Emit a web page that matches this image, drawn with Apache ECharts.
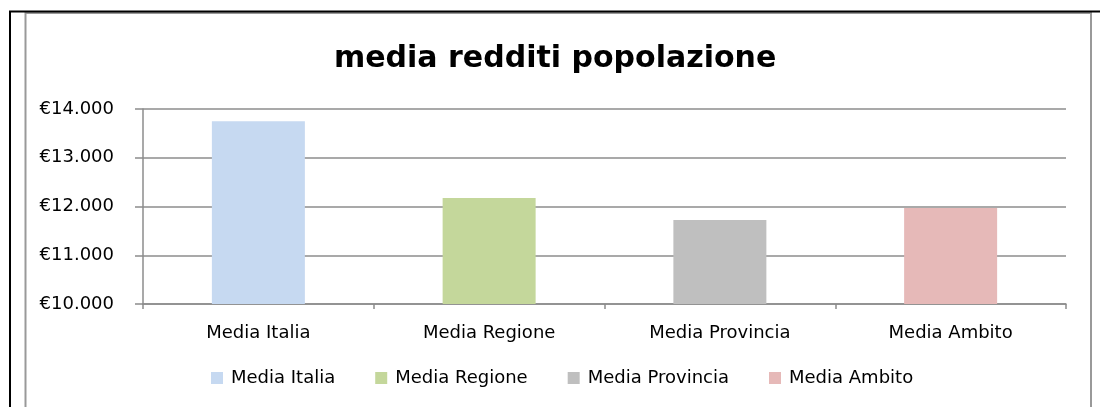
<!DOCTYPE html>
<html>
<head>
<meta charset="utf-8">
<script src="https://cdn.jsdelivr.net/npm/echarts@6/dist/echarts.min.js"></script>
<style>
html,body{margin:0;padding:0;background:#fff;}
#c{width:1100px;height:407px;}
</style>
</head>
<body>
<div id="c"></div>
<script>
const titleText = 'media redditi popolazione';
const categories = ['Media Italia', 'Media Regione', 'Media Provincia', 'Media Ambito'];
const values = [13750, 12175, 11725, 11970];
const colors = ['#c6d9f1', '#c4d79b', '#bfbfbf', '#e6b9b8'];
const yTicks = { min: 10000, max: 14000, interval: 1000 };

const FONT = '"DejaVu Sans", sans-serif';
const chart = echarts.init(document.getElementById('c'), null, { renderer: 'canvas' });

function fmt(v) {
  return '€' + String(v).replace(/\B(?=(\d{3})+(?!\d))/g, '.');
}

const series = categories.map((name, i) => ({
  name: name,
  type: 'bar',
  barWidth: 93,
  barGap: '-100%',
  itemStyle: { color: colors[i] },
  data: categories.map((c, j) => (j === i ? values[i] : '-')),
  emphasis: { disabled: true }
}));

chart.setOption({
  animation: false,
  backgroundColor: '#fff',
  textStyle: { fontFamily: FONT },
  title: {
    text: titleText,
    left: 334,
    top: 44,
    padding: 0,
    textStyle: { fontFamily: FONT, fontSize: 30, fontWeight: 'bold', color: '#000' }
  },
  legend: {
    data: categories,
    top: 369,
    left: 211,
    padding: 0,
    icon: 'rect',
    itemWidth: 12,
    itemHeight: 12,
    itemGap: 40,
    textStyle: { fontFamily: FONT, fontSize: 18, color: '#000', padding: [0, 0, 0, 3] }
  },
  grid: { left: 143, right: 34, top: 109, bottom: 103, containLabel: false },
  xAxis: {
    type: 'category',
    data: categories,
    axisLine: { show: true, lineStyle: { color: '#8c8c8c', width: 1.5 } },
    axisTick: { show: true, length: 5, lineStyle: { color: '#8c8c8c', width: 1.5 } },
    axisLabel: { color: '#000', fontSize: 18, fontFamily: FONT, margin: 20 }
  },
  yAxis: {
    type: 'value',
    min: yTicks.min,
    max: yTicks.max,
    interval: yTicks.interval,
    axisLine: { show: true, lineStyle: { color: '#8c8c8c', width: 1.5 } },
    axisTick: { show: true, length: 8, lineStyle: { color: '#8c8c8c', width: 1.5 } },
    axisLabel: { color: '#000', fontSize: 18, fontFamily: FONT, margin: 29, formatter: fmt },
    splitLine: { show: true, lineStyle: { color: '#8c8c8c', width: 1.5 } }
  },
  series: series,
  graphic: [
    { type: 'rect', shape: { x: 25.5, y: 13, width: 1065.5, height: 420 },
      style: { fill: 'none', stroke: '#999', lineWidth: 2 }, silent: true, z: -1 },
    { type: 'line', shape: { x1: 9, y1: 11.5, x2: 1100, y2: 11.5 },
      style: { stroke: '#000', lineWidth: 2 }, silent: true },
    { type: 'line', shape: { x1: 10, y1: 11, x2: 10, y2: 407 },
      style: { stroke: '#000', lineWidth: 2 }, silent: true }
  ]
});
</script>
</body>
</html>
